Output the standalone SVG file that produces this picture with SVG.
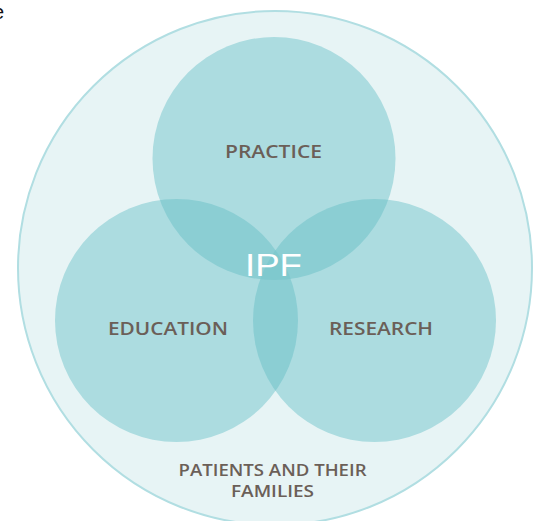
<svg xmlns="http://www.w3.org/2000/svg" width="539" height="521" viewBox="0 0 539 521">
<style>
.lbl{font-family:"Open Sans","Liberation Sans",sans-serif;font-weight:600;fill:#6b5f58;text-anchor:middle}
.ring{fill:#acdce0}
.dbl{fill:#8bced3}
.tri{fill:#7fc9ce}
</style>
<defs>
<clipPath id="cT"><circle cx="274" cy="158.5" r="121.5"/></clipPath>
<clipPath id="cL"><circle cx="176.5" cy="320.5" r="121.5"/></clipPath>
<clipPath id="cR"><circle cx="374.5" cy="320.5" r="121.5"/></clipPath>
</defs>
<rect width="539" height="521" fill="#ffffff"/>
<text x="-7" y="19" font-family="Liberation Sans, sans-serif" font-size="20" fill="#111">e</text>
<g id="patients">
<circle cx="275" cy="268" r="257" fill="#e7f4f5" stroke="#b1dee2" stroke-width="2"/>
<text class="lbl" x="272.5" y="476" font-size="16" textLength="188" lengthAdjust="spacingAndGlyphs">PATIENTS AND THEIR</text>
<text class="lbl" x="272.5" y="497" font-size="16" textLength="83" lengthAdjust="spacingAndGlyphs">FAMILIES</text>
</g>
<g id="practice">
<circle class="ring" cx="274" cy="158.5" r="121.5"/>
</g>
<g id="education">
<circle class="ring" cx="176.5" cy="320.5" r="121.5"/>
</g>
<g id="research">
<circle class="ring" cx="374.5" cy="320.5" r="121.5"/>
</g>
<g id="overlaps">
<g clip-path="url(#cT)"><circle class="dbl" cx="176.5" cy="320.5" r="121.5"/></g>
<g clip-path="url(#cT)"><circle class="dbl" cx="374.5" cy="320.5" r="121.5"/></g>
<g clip-path="url(#cL)"><circle class="dbl" cx="374.5" cy="320.5" r="121.5"/></g>
<g clip-path="url(#cT)"><g clip-path="url(#cL)"><circle class="tri" cx="374.5" cy="320.5" r="121.5"/></g></g>
</g>
<g id="labels">
<text class="lbl" x="273.5" y="158" font-size="18" textLength="97" lengthAdjust="spacingAndGlyphs">PRACTICE</text>
<text class="lbl" x="168" y="335" font-size="18.5" textLength="120" lengthAdjust="spacingAndGlyphs">EDUCATION</text>
<text class="lbl" x="381" y="335" font-size="18.5" textLength="104" lengthAdjust="spacingAndGlyphs">RESEARCH</text>
</g>
<g id="ipf">
<text x="273.5" y="275.5" font-family="Liberation Sans, sans-serif" font-size="31" fill="#ffffff" text-anchor="middle" textLength="57" lengthAdjust="spacingAndGlyphs">IPF</text>
</g>
</svg>
